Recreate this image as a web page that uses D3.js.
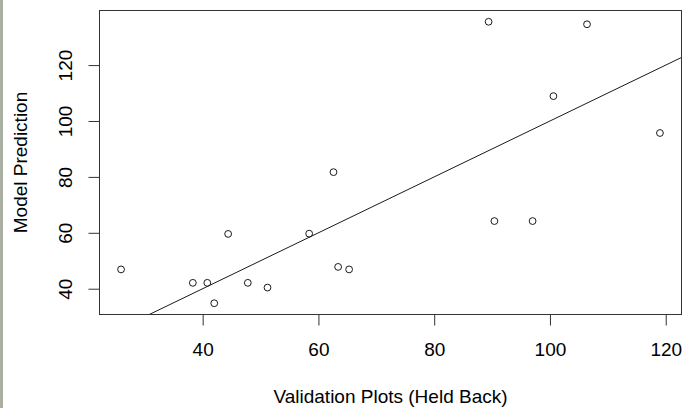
<!DOCTYPE html>
<html>
<head>
<meta charset="utf-8">
<script src="https://cdn.jsdelivr.net/npm/d3@7"></script>
<style>
  html, body { margin: 0; padding: 0; background: #fff; }
  svg { display: block; }
  text { font-family: "Liberation Sans", Arial, sans-serif; fill: #000; }
</style>
</head>
<body>
<svg id="chart" width="682" height="408"></svg>
<script>
// Held-back validation plots vs. model prediction
const observed  = [25.9, 38.3, 40.8, 42.0, 44.4, 47.8, 51.2, 58.4, 62.6, 63.4, 65.3,
                   89.4, 90.4, 97.0, 100.6, 106.4, 119.0];
const predicted = [46.9, 42.1, 42.1, 34.8, 59.6, 42.1, 40.4, 59.7, 81.7, 47.8, 46.9,
                   135.5, 64.2, 64.2, 108.9, 134.6, 95.7];
const xTicks = [40, 60, 80, 100, 120];
const yTicks = [40, 60, 80, 100, 120];
const xTitle = "Validation Plots (Held Back)";
const yTitle = "Model Prediction";

const W = 682, H = 408;
const box = { left: 99.5, right: 681.5, top: 10.5, bottom: 314.5 };

// R-style axis ranges: data extent widened by 4% on each side
function padded(vals) {
  const [lo, hi] = d3.extent(vals);
  const d = (hi - lo) * 0.04;
  return [lo - d, hi + d];
}

const x = d3.scaleLinear().domain(padded(observed)).range([box.left, box.right]);
const y = d3.scaleLinear().domain(padded(predicted)).range([box.bottom, box.top]);

const svg = d3.select("#chart");

// window edge strip on the left
svg.append("rect").attr("x", 0).attr("y", 0).attr("width", 3).attr("height", H)
  .attr("fill", "#a9b0a2");

svg.append("defs").append("clipPath").attr("id", "plotClip")
  .append("rect")
  .attr("x", box.left).attr("y", box.top)
  .attr("width", box.right - box.left).attr("height", box.bottom - box.top);

// 1:1 reference line
const lo = Math.min(x.domain()[0], y.domain()[0]);
const hi = Math.max(x.domain()[1], y.domain()[1]);
svg.append("line")
  .attr("clip-path", "url(#plotClip)")
  .attr("x1", x(lo)).attr("y1", y(lo))
  .attr("x2", x(hi)).attr("y2", y(hi))
  .attr("stroke", "#1a1a1a").attr("stroke-width", 1);

// points
svg.append("g").selectAll("circle")
  .data(observed.map((v, i) => [v, predicted[i]]))
  .join("circle")
  .attr("cx", d => x(d[0])).attr("cy", d => y(d[1]))
  .attr("r", 3.4)
  .attr("fill", "none").attr("stroke", "#1a1a1a").attr("stroke-width", 1);

// frame
svg.append("rect")
  .attr("x", box.left).attr("y", box.top)
  .attr("width", box.right - box.left).attr("height", box.bottom - box.top)
  .attr("fill", "none").attr("stroke", "#333").attr("stroke-width", 1);

// bottom axis
const xAxis = d3.axisBottom(x).tickValues(xTicks).tickSize(11).tickPadding(17)
  .tickFormat(d3.format("d"));
const gx = svg.append("g").attr("transform", `translate(0,${box.bottom})`).call(xAxis);
gx.select(".domain").remove();
gx.selectAll(".tick line").attr("stroke", "#333");
gx.selectAll(".tick text").attr("font-size", 19).attr("fill", "#000")
  .attr("font-family", "Liberation Sans, Arial, sans-serif");

// left axis
const yAxis = d3.axisLeft(y).tickValues(yTicks).tickSize(11).tickFormat(d3.format("d"));
const gy = svg.append("g").attr("transform", `translate(${box.left},0)`).call(yAxis);
gy.select(".domain").remove();
gy.selectAll(".tick line").attr("stroke", "#333");
gy.selectAll(".tick text")
  .attr("font-size", 19).attr("fill", "#000")
  .attr("font-family", "Liberation Sans, Arial, sans-serif")
  .attr("x", null).attr("dy", null)
  .attr("text-anchor", "middle")
  .attr("transform", `translate(${71.5 - box.left},0) rotate(-90)`);

// axis titles
svg.append("text")
  .attr("x", (box.left + box.right) / 2).attr("y", 403)
  .attr("text-anchor", "middle").attr("font-size", 19)
  .text(xTitle);

svg.append("text")
  .attr("transform", `translate(27,${(box.top + box.bottom) / 2}) rotate(-90)`)
  .attr("text-anchor", "middle").attr("font-size", 19)
  .text(yTitle);
</script>
</body>
</html>
